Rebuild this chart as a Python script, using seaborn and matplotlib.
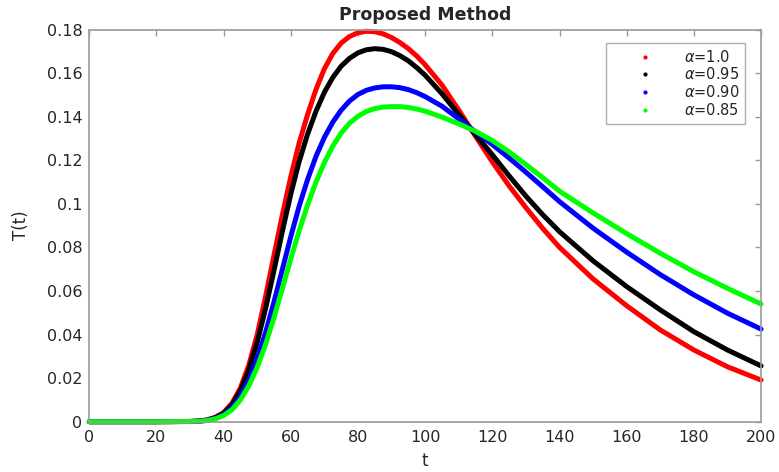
import numpy as np
import pandas as pd
import matplotlib
matplotlib.use("Agg")
import matplotlib.pyplot as plt
from matplotlib.lines import Line2D
import seaborn as sns

# Time grid
t_vals = [0, 10, 20, 30, 32.5, 35, 37.5, 40, 42.5, 45, 47.5, 50, 52.5, 55, 57.5,
          60, 62.5, 65, 67.5, 70, 72.5, 75, 77.5, 80, 82.5, 85, 87.5, 90, 92.5,
          95, 97.5, 100, 105, 110, 115, 120, 125, 130, 135, 140, 150, 160, 170,
          180, 190, 200]

# T(t) for each fractional order alpha
T_a100 = [0, 0, 0, 0.0001, 0.0003, 0.0008, 0.0020, 0.0042, 0.0085, 0.0155,
          0.0260, 0.0400, 0.0575, 0.0765, 0.0950, 0.1125, 0.1280, 0.1410,
          0.1525, 0.1620, 0.1690, 0.1738, 0.1768, 0.1785, 0.1792, 0.1790,
          0.1780, 0.1763, 0.1740, 0.1712, 0.1678, 0.1638, 0.1545, 0.1430,
          0.1310, 0.1192, 0.1082, 0.0982, 0.0887, 0.0800, 0.0655, 0.0532,
          0.0421, 0.0329, 0.0252, 0.0191]
T_a095 = [0, 0, 0, 0.0001, 0.0003, 0.0007, 0.0018, 0.0038, 0.0078, 0.0142,
          0.0238, 0.0365, 0.0520, 0.0695, 0.0875, 0.1045, 0.1195, 0.1320,
          0.1425, 0.1512, 0.1580, 0.1632, 0.1668, 0.1693, 0.1707, 0.1712,
          0.1709, 0.1698, 0.1680, 0.1656, 0.1625, 0.1590, 0.1505, 0.1410,
          0.1317, 0.1225, 0.1128, 0.1035, 0.0950, 0.0872, 0.0738, 0.0620,
          0.0513, 0.0413, 0.0329, 0.0256]
T_a090 = [0, 0, 0, 0.0001, 0.0002, 0.0006, 0.0016, 0.0033, 0.0065, 0.0117,
          0.0192, 0.0290, 0.0410, 0.0550, 0.0700, 0.0850, 0.0990, 0.1112,
          0.1218, 0.1305, 0.1375, 0.1430, 0.1472, 0.1502, 0.1521, 0.1532,
          0.1537, 0.1537, 0.1533, 0.1524, 0.1510, 0.1492, 0.1448, 0.1390,
          0.1330, 0.1272, 0.1210, 0.1145, 0.1078, 0.1010, 0.0888, 0.0778,
          0.0675, 0.0582, 0.0498, 0.0425]
T_a085 = [0, 0, 0, 0.0001, 0.0002, 0.0005, 0.0013, 0.0028, 0.0055, 0.0100,
          0.0165, 0.0250, 0.0355, 0.0478, 0.0612, 0.0748, 0.0877, 0.0995,
          0.1100, 0.1190, 0.1265, 0.1325, 0.1370, 0.1402, 0.1424, 0.1437,
          0.1444, 0.1446, 0.1446, 0.1442, 0.1435, 0.1425, 0.1398, 0.1367,
          0.1333, 0.1290, 0.1238, 0.1180, 0.1120, 0.1058, 0.0958, 0.0863,
          0.0773, 0.0688, 0.0612, 0.0540]

labels = [r"$\alpha$=1.0", r"$\alpha$=0.95", r"$\alpha$=0.90", r"$\alpha$=0.85"]
colors = ["#ff0000", "#000000", "#0000ff", "#00ff00"]
series = [T_a100, T_a095, T_a090, T_a085]

x_ticks = [0, 20, 40, 60, 80, 100, 120, 140, 160, 180, 200]
y_ticks = [0, 0.02, 0.04, 0.06, 0.08, 0.1, 0.12, 0.14, 0.16, 0.18]

df = pd.concat(
    [pd.DataFrame({"t": t_vals, "T": s, "alpha": lab}) for s, lab in zip(series, labels)],
    ignore_index=True,
)

sns.set_style("white")
plt.rcParams["font.family"] = ["DejaVu Sans"]
plt.rcParams["mathtext.fontset"] = "dejavusans"

fig = plt.figure(figsize=(7.79, 4.72), dpi=100)
ax = fig.add_axes([0.1146, 0.1066, 0.8624, 0.8309])

sns.lineplot(data=df, x="t", y="T", hue="alpha", hue_order=labels,
             palette=colors, linewidth=3.6, legend=False, sort=False, ax=ax)
for ln in ax.lines:
    ln.set_clip_on(False)
    ln.set_solid_capstyle("round")
    ln.set_solid_joinstyle("round")

ax.set_xlim(0, 200)
ax.set_ylim(0, 0.18)
ax.set_xticks(x_ticks)
ax.set_xticklabels([f"{v:g}" for v in x_ticks])
ax.set_yticks(y_ticks)
ax.set_yticklabels([f"{v:g}" for v in y_ticks])

spine_col = "#9a9a9a"
for sp in ax.spines.values():
    sp.set_visible(True)
    sp.set_color(spine_col)
    sp.set_linewidth(1.2)
ax.tick_params(axis="both", which="both", direction="in", length=4, width=1,
               color=spine_col, labelcolor="#262626", labelsize=11.5,
               top=True, right=True)
ax.tick_params(axis="x", pad=6)
ax.tick_params(axis="y", pad=5)

ax.set_xlabel("t", fontsize=12, color="#262626", labelpad=5)
ax.set_ylabel("T(t)", fontsize=12, color="#262626", labelpad=12)
ax.set_title("Proposed Method", fontsize=12.5, fontweight="bold", pad=7)

handles = [Line2D([], [], marker=".", linestyle="none", color=c, markersize=4)
           for c in colors]
leg = ax.legend(handles, labels, loc="upper right", bbox_to_anchor=(0.976, 0.966),
                borderaxespad=0, fontsize=10.5, frameon=True, fancybox=False,
                handlelength=4.5, handletextpad=0.4, borderpad=0.4,
                labelspacing=0.12, numpoints=1)
leg.get_frame().set_edgecolor("#9a9a9a")
leg.get_frame().set_linewidth(1.0)

fig.savefig("out.png", dpi=100)
